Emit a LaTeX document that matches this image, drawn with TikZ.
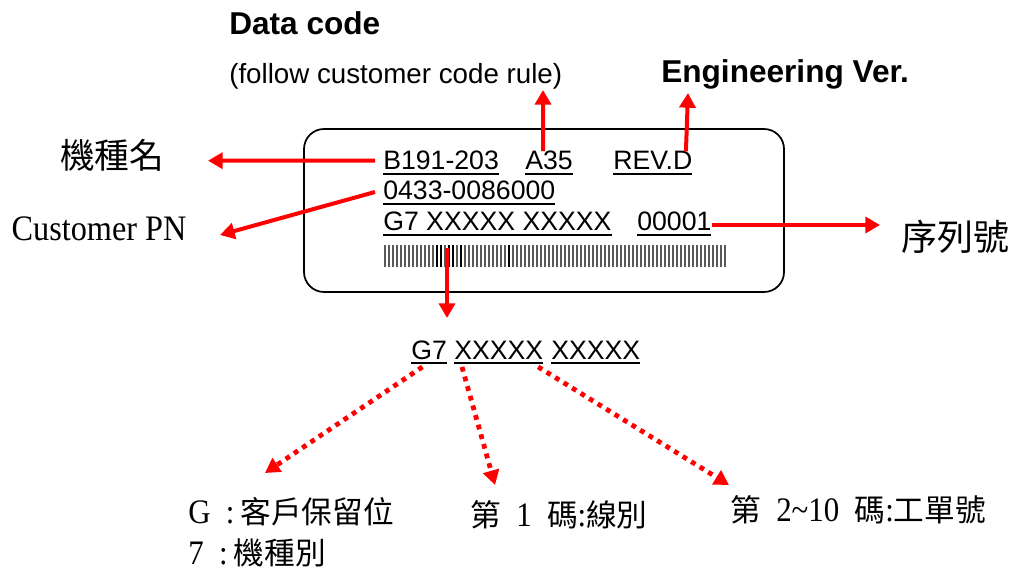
\documentclass[tikz,border=0pt]{standalone}
\usepackage{fontspec}
\setmainfont{Liberation Sans}
\newfontfamily\cjk{Noto Sans CJK TC}
\newfontfamily\mingfont[Scale=1.12, FakeStretch=0.9]{Liberation Serif}
\usetikzlibrary{arrows.meta}
\newsavebox\ulsave
\newcommand{\ultext}[1]{\sbox\ulsave{#1}\mbox{\rlap{\usebox\ulsave}\raisebox{-3.75pt}{\rule{\wd\ulsave}{1.5pt}}}}
\newcommand{\halfsp}{\hspace{0.5em}}

\begin{document}
\begin{tikzpicture}[x=0.75pt, y=-0.75pt,
    code_style/.style={inner sep=0pt, anchor=base west, font=\fontsize{20pt}{24pt}\selectfont},
    head_style/.style={inner sep=0pt, anchor=base west, font=\fontsize{23.7pt}{28pt}\selectfont\bfseries},
    name_style/.style={inner sep=0pt, font=\fontsize{26pt}{30pt}\selectfont},
    desc_style/.style={inner sep=0pt, anchor=west, font=\fontsize{23pt}{27pt}\selectfont},
    red_arrow/.style={draw=red, line width=3pt, -{Triangle[length=11pt,width=12pt]}},
    dot_arrow/.style={red_arrow, line width=3.6pt, dash pattern=on 3.6pt off 3.9pt}]
  \useasboundingbox (0,0) rectangle (1012,573);
  \draw[line width=1.3pt, rounded corners=15pt] (304,129) rectangle (784,292);
  \foreach \i in {0,...,85}
    \draw[black!65, line width=0.8pt] ({385+4*\i},245) -- ({385+4*\i},267);
  \foreach \i in {13,14,16,17,19,31}
    \draw[black, line width=1.5pt] ({385+4*\i},245) -- ({385+4*\i},267);
  \draw
    (229,35) node[head_style] (data_head) {Data code}
    (229,84) node[code_style, font=\fontsize{20.8pt}{24pt}\selectfont] (code_rule) {(follow customer code rule)}
    (661,83) node[head_style] (eng_head) {Engineering Ver.}
    (383,170) node[code_style] (model) {\ultext{B191-203}}
    (525,170) node[code_style] (datecode) {\ultext{A35}}
    (613,170) node[code_style] (rev) {\ultext{REV.D}}
    (383,200) node[code_style] (custpn) {\ultext{0433-0086000}}
    (383,231) node[code_style] (lot) {\ultext{G7 XXXXX XXXXX}}
    (637,231) node[code_style] (serial) {\ultext{00001}}
    (411,359) node[code_style] (g7) {\ultext{G7}}
    (454,359) node[code_style] (xa) {\ultext{XXXXX}}
    (551,359) node[code_style] (xb) {\ultext{XXXXX}}
    (112,155) node[name_style] (model_name) {\cjk 機種名}
    (99,229) node[name_style, font=\fontsize{24pt}{28pt}\selectfont] (cust_name) {\mingfont Customer PN}
    (955,237) node[name_style, font=\fontsize{27pt}{31pt}\selectfont] (serial_name) {\cjk 序列號}
    (188,512) node[desc_style] (g_desc) {{\mingfont G}\halfsp{\mingfont :}\hspace{0.2em}{\cjk 客戶保留位}}
    (188,553) node[desc_style] (seven_desc) {{\mingfont 7}\halfsp{\mingfont :}\hspace{0.2em}{\cjk 機種別}}
    (470,515) node[desc_style] (line_desc) {{\cjk 第}\halfsp{\mingfont 1}\halfsp{\cjk 碼}{\mingfont :}{\cjk 線別}}
    (730,510) node[desc_style] (order_desc) {{\cjk 第}\halfsp{\mingfont 2\textasciitilde10}\halfsp{\cjk 碼}{\mingfont :}{\cjk 工單號}};
  \coordinate (tip_model) at (208,160.7);
  \coordinate (tip_cust) at (220,235);
  \coordinate (tip_serial) at (880,225);
  \coordinate (tip_date) at (543,90);
  \coordinate (tip_rev) at (688,93);
  \coordinate (bar_hit) at (447,248);
  \coordinate (tip_bar) at (447,318);
  \coordinate (tip_g) at (265,473);
  \coordinate (tip_line) at (495,485);
  \coordinate (tip_order) at (729,485);
  \draw[red_arrow] ([xshift=-6pt, yshift=7pt]model.base west) to (tip_model);
  \draw[red_arrow] ([xshift=-6pt, yshift=6pt]custpn.base west) to (tip_cust);
  \draw[red_arrow] ([yshift=4.5pt]serial.base east) to (tip_serial);
  \draw[red_arrow] ([xshift=-4.5pt]datecode.north) to (tip_date);
  \draw[red_arrow] ([xshift=-5pt]rev.north east) to (tip_rev);
  \draw[red_arrow] (bar_hit) to (tip_bar);
  \draw[dot_arrow] ([xshift=-5pt, yshift=-2pt]g7.south) to (tip_g);
  \draw[dot_arrow] ([xshift=6pt, yshift=-2pt]xa.south west) to (tip_line);
  \draw[dot_arrow] ([xshift=-4pt, yshift=-2pt]xa.south east) to (tip_order);
\end{tikzpicture}
\end{document}
